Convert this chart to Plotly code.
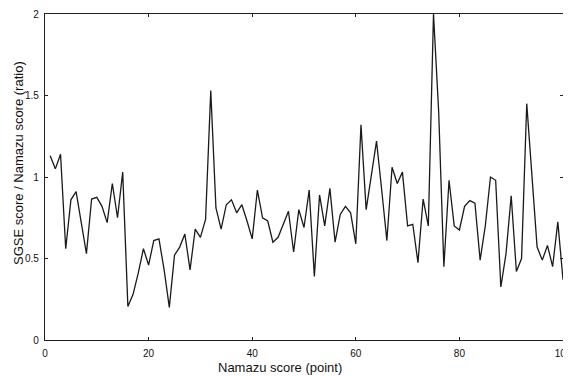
import plotly.graph_objects as go

namazu_score = list(range(1, 101))
ratio = [
    1.13, 1.05, 1.14, 0.56, 0.86, 0.91, 0.72, 0.53, 0.865, 0.875,
    0.82, 0.72, 0.96, 0.75, 1.03, 0.205, 0.28, 0.41, 0.56, 0.46,
    0.61, 0.62, 0.43, 0.20, 0.52, 0.57, 0.65, 0.43, 0.68, 0.63,
    0.74, 1.53, 0.81, 0.68, 0.83, 0.86, 0.78, 0.83, 0.73, 0.62,
    0.92, 0.75, 0.73, 0.60, 0.63, 0.71, 0.79, 0.54, 0.80, 0.69,
    0.92, 0.39, 0.89, 0.70, 0.93, 0.60, 0.77, 0.82, 0.78, 0.59,
    1.32, 0.80, 1.01, 1.22, 0.92, 0.61, 1.06, 0.96, 1.03, 0.70,
    0.71, 0.475, 0.865, 0.70, 2.0, 1.4, 0.45, 0.98, 0.70, 0.675,
    0.82, 0.855, 0.84, 0.49, 0.70, 1.00, 0.98, 0.325, 0.53, 0.885,
    0.42, 0.50, 1.45, 1.0, 0.57, 0.49, 0.58, 0.45, 0.725, 0.37,
]
x_ticks = [0, 20, 40, 60, 80, 100]
y_ticks = [0, 0.5, 1, 1.5, 2]
x_title = "Namazu score (point)"
y_title = "SGSE score / Namazu score (ratio)"

# page body has an 8px margin; compensate so the plot lands where the reference has it
OFF = 8
W, H = 571 - OFF, 376 - OFF
L, T = 45 - OFF, 14 - OFF
R = W - (563 - OFF)
B = H - (340 - OFF)
pw, ph = W - L - R, H - T - B

fig = go.Figure()
fig.add_trace(go.Scatter(
    x=namazu_score, y=ratio, mode="lines",
    line=dict(color="#1a1a1a", width=1.3),
    showlegend=False, hoverinfo="skip",
))

axis_common = dict(
    showgrid=False, zeroline=False, showline=True, linecolor="#222",
    linewidth=1.3, mirror="ticks", ticks="inside", ticklen=3,
    tickcolor="#222", tickwidth=1, ticklabeloverflow="allow",
    tickfont=dict(family="Liberation Sans, Arial, sans-serif", size=10, color="#111"),
)
fig.update_xaxes(range=[0, 100], tickvals=x_ticks, ticklabelstandoff=4, **axis_common)
fig.update_yaxes(range=[0, 2], tickvals=y_ticks, ticklabelstandoff=3, **axis_common)

title_font = dict(family="Liberation Sans, Arial, sans-serif", size=13, color="#111")
fig.add_annotation(
    text=x_title, xref="paper", yref="paper",
    x=(279.5 - 45) / pw, y=(340 - 367) / ph,
    xanchor="center", yanchor="middle", showarrow=False, font=title_font,
)
fig.add_annotation(
    text=y_title, xref="paper", yref="paper",
    x=(18 - 45) / pw, y=(340 - 163) / ph, textangle=-90,
    xanchor="center", yanchor="middle", showarrow=False, font=title_font,
)

fig.update_layout(
    width=W, height=H,
    margin=dict(l=L, r=R, t=T, b=B, autoexpand=False),
    paper_bgcolor="white", plot_bgcolor="white",
)
fig.write_html("out.html")
